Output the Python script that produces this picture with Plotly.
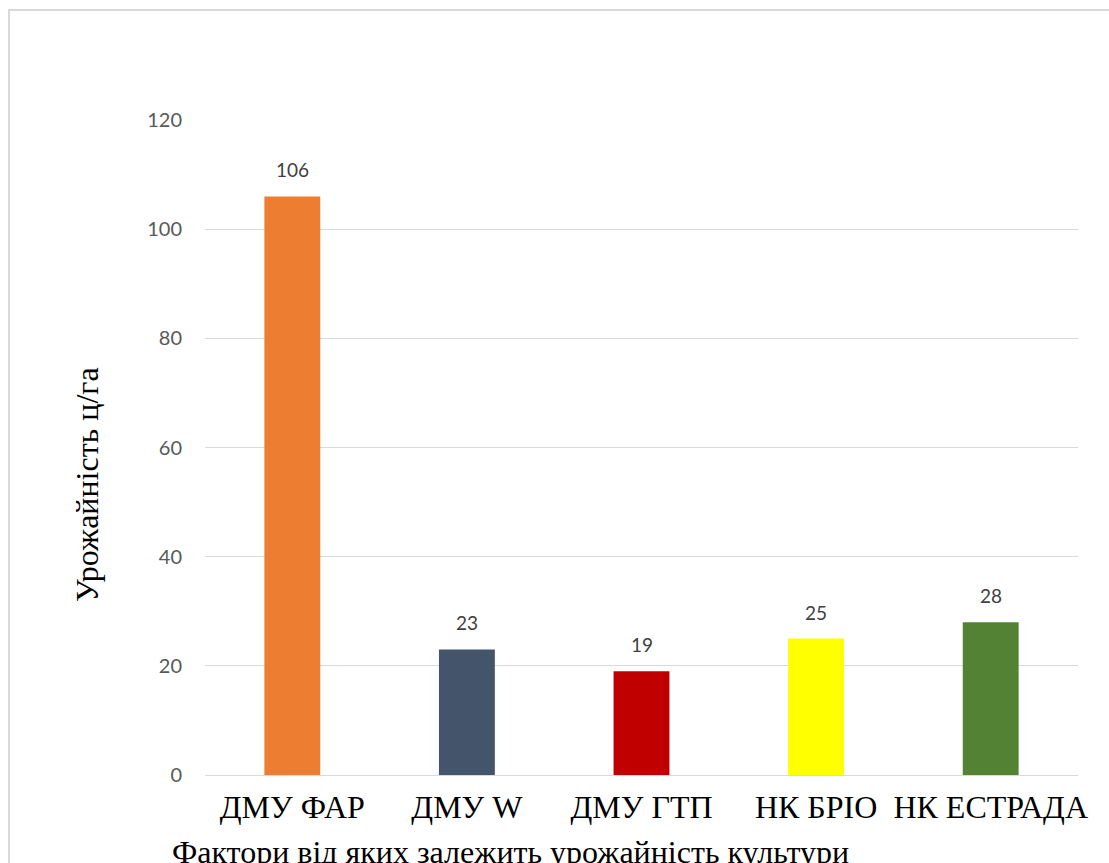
import plotly.graph_objects as go

# Yield by factor / hybrid
categories = ["ДМУ ФАР", "ДМУ W", "ДМУ ГТП", "НК БРІО", "НК ЕСТРАДА"]
values = [106, 23, 19, 25, 28]
bar_colors = ["#ED7D31", "#44546A", "#C00000", "#FFFF00", "#548235"]
y_ticks = [0, 20, 40, 60, 80, 100, 120]

W, H = 1109, 863
L, R, T, B = 205, 31, 120, 88
pw, ph = W - L - R, H - T - B

SERIF = "Liberation Serif, Times New Roman, serif"
SANS = "Lato, Carlito, sans-serif"


def px_x(px):
    return (px - L) / pw


def px_y(py):
    return (H - B - py) / ph


fig = go.Figure()
fig.add_trace(go.Bar(
    x=categories,
    y=values,
    marker=dict(color=bar_colors, line=dict(width=0)),
    width=0.32,
    hoverinfo="x+y",
))

# value labels above each bar
for c, v in zip(categories, values):
    fig.add_annotation(
        x=c, y=v, xref="x", yref="y",
        text=str(v), showarrow=False,
        yanchor="bottom", yshift=13,
        font=dict(family=SANS, size=19, color="#404040"),
    )

# axis titles
fig.add_annotation(
    x=px_x(87), y=px_y(485), xref="paper", yref="paper",
    text="Урожайність ц/га", textangle=-90, showarrow=False,
    xanchor="center", yanchor="middle",
    font=dict(family=SERIF, size=32, color="#000000"),
)
fig.add_annotation(
    x=px_x(170), y=px_y(832), xref="paper", yref="paper",
    text="Фактори від яких залежить урожайність культури", showarrow=False,
    xanchor="left", yanchor="top",
    font=dict(family=SERIF, size=32, color="#000000"),
)

# chart frame
fig.add_shape(
    type="rect", xref="paper", yref="paper",
    x0=px_x(9), x1=px_x(1112), y0=px_y(880), y1=px_y(10),
    line=dict(color="#D9D9D9", width=2), fillcolor="rgba(0,0,0,0)",
    layer="below",
)

fig.update_layout(
    width=W, height=H,
    margin=dict(l=L, r=R, t=T, b=B),
    paper_bgcolor="white",
    plot_bgcolor="white",
    showlegend=False,
    bargap=0.68,
)
fig.update_xaxes(
    showgrid=False, showline=False, zeroline=False, ticks="",
    ticklabelstandoff=10,
    tickfont=dict(family=SERIF, size=32, color="#000000"),
)
fig.update_yaxes(
    range=[0, 120], tickvals=y_ticks,
    showgrid=True, gridcolor="#D9D9D9", gridwidth=1,
    zeroline=True, zerolinecolor="#D9D9D9", zerolinewidth=1,
    showline=False, ticks="",
    ticklabelstandoff=22,
    tickfont=dict(family=SANS, size=20, color="#595959"),
)

fig.write_html("out.html")
